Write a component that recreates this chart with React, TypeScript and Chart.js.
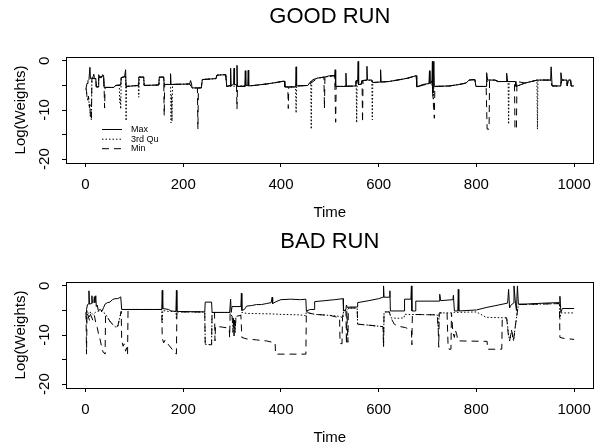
import React, { useEffect, useRef } from "react";
import { Chart, registerables } from "chart.js";

Chart.register(...registerables);

const FONT = "'Liberation Sans', Arial, Helvetica, sans-serif";

const titles = ["GOOD RUN", "BAD RUN"];
const xLabel = "Time";
const yLabel = "Log(Weights)";
const xTicks = [0, 200, 400, 600, 800, 1000];
const yTicks = [-20, -15, -10, -5, 0];
const yLabelled = [-20, -10, 0];
const seriesNames = ["Max", "3rd Qu", "Min"];

type P = [number, number];

// ---------- GOOD RUN ----------
const goodMax: P[] = [
  [1, -5.6], [3, -4.6], [5, -4.0], [7, -3.8], [9, -1.3], [10, -3.6], [15, -3.4], [17, -2.7], [18, -3.6],
  [21, -3.6], [22, -5.3], [26, -5.3], [27, -2.8], [29, -3.4], [33, -3.4], [35, -2.8], [37, -3.0], [38, -5.4],
  [58, -5.4], [62, -5.0], [72, -4.9], [73, -3.4], [80, -3.2], [82, -1.8], [83, -5.2], [108, -5.0], [109, -3.3],
  [119, -3.3], [120, -5.0], [150, -4.9], [151, -3.3], [160, -3.3], [161, -4.8], [173, -4.8], [174, -2.6],
  [175, -4.8], [213, -4.7], [215, -4.0], [217, -4.7], [218, -5.5], [237, -5.5], [239, -3.8], [267, -3.6],
  [269, -2.9], [287, -2.8], [289, -5.2], [296, -5.0], [297, -1.5], [298, -5.0], [303, -4.8], [304, -1.5],
  [305, -4.8], [309, -4.8], [310, -0.9], [311, -5.2], [326, -5.2], [327, -2.0], [328, -5.0], [332, -5.0],
  [333, -1.9], [334, -5.1], [345, -5.0], [370, -4.7], [390, -4.4], [407, -4.1], [408, -5.3], [430, -5.3],
  [431, -1.2], [432, -5.1], [455, -5.0], [460, -4.3], [466, -3.8], [475, -3.5], [489, -3.3], [500, -3.0],
  [510, -3.0], [511, -1.8], [512, -5.2], [532, -5.2], [533, -2.5], [534, -5.2], [553, -5.1], [554, -4.0],
  [557, -4.0], [558, -0.1], [559, -4.8], [564, -4.8], [566, -4.0], [575, -3.9], [576, -1.1], [577, -3.9],
  [586, -3.9], [588, -4.4], [603, -4.3], [604, -1.8], [605, -4.3], [620, -4.2], [640, -3.9], [660, -3.5],
  [677, -3.0], [678, -5.3], [690, -4.8], [703, -4.6], [704, -2.0], [705, -4.6], [709, -4.2], [710, -0.1],
  [711, -6.5], [713, -0.1], [714, -5.2], [745, -5.1], [765, -4.8], [779, -4.5], [785, -3.9], [797, -3.8],
  [799, -5.2], [820, -5.2], [821, -2.4], [823, -3.9], [838, -3.9], [845, -4.2], [861, -4.2], [862, -2.5],
  [864, -4.2], [880, -4.2], [881, -5.2], [900, -4.5], [925, -3.9], [952, -3.9], [953, -1.2], [955, -5.1],
  [972, -5.1], [973, -2.4], [975, -3.9], [985, -3.9], [986, -5.1], [988, -3.9], [993, -3.9], [994, -5.1],
  [1000, -5.1],
];

const good3rd: P[] = [
  [1, -5.6], [2, -6.2], [3, -7.5], [5, -8.0], [6, -7.2], [8, -9.5], [9, -8.8], [10, -11.5], [12, -12.0],
  [13, -3.6], [21, -3.6], [22, -5.3], [26, -5.3], [27, -3.4], [37, -3.0], [38, -5.4], [58, -5.4], [62, -5.0],
  [69, -5.0], [70, -8.5], [71, -7.5], [72, -9.8], [73, -3.4], [82, -3.2], [83, -12.2], [84, -5.2], [108, -5.0],
  [109, -7.4], [110, -3.3], [119, -3.3], [120, -5.0], [150, -4.9], [151, -3.3], [160, -3.3], [161, -4.8],
  [174, -4.8], [175, -12.6], [176, -7.0], [177, -12.3], [178, -4.8], [213, -4.7], [218, -5.5], [237, -5.5],
  [239, -3.8], [267, -3.6], [269, -2.9], [287, -2.8], [289, -5.2], [345, -5.0], [370, -4.7], [390, -4.4],
  [407, -4.1], [408, -5.3], [430, -5.3], [431, -10.6], [432, -5.1], [455, -5.0], [461, -4.2], [462, -13.9],
  [463, -4.0], [475, -3.5], [510, -3.0], [512, -5.2], [553, -5.1], [554, -4.0], [555, -12.6], [556, -4.0],
  [557, -4.0], [559, -4.8], [564, -4.8], [566, -4.0], [586, -3.9], [587, -12.0], [588, -4.4], [620, -4.2],
  [660, -3.5], [677, -3.0], [678, -5.3], [703, -4.6], [709, -4.2], [711, -6.5], [712, -8.0], [713, -5.2],
  [745, -5.1], [765, -4.8], [779, -4.5], [785, -3.9], [797, -3.8], [799, -5.2], [820, -5.2], [823, -3.9],
  [838, -3.9], [845, -4.2], [865, -4.2], [866, -12.9], [867, -4.2], [880, -4.2], [881, -5.2], [900, -4.5],
  [924, -3.9], [925, -13.9], [926, -3.9], [952, -3.9], [955, -5.1], [972, -5.1], [975, -3.9], [985, -3.9],
  [986, -5.1], [988, -3.9], [993, -3.9], [994, -5.1], [1000, -5.1],
];

const goodMin: P[] = [
  [1, -5.6], [2, -6.2], [3, -7.5], [5, -8.0], [6, -7.2], [8, -9.5], [9, -8.8], [10, -11.5], [12, -12.0],
  [13, -3.6], [21, -3.6], [22, -5.3], [26, -5.3], [27, -3.4], [37, -3.0], [38, -5.4], [39, -9.6], [40, -5.4],
  [58, -5.4], [62, -5.0], [72, -4.9], [73, -3.4], [82, -3.2], [83, -5.2], [108, -5.0], [109, -3.3], [119, -3.3],
  [120, -5.0], [150, -4.9], [151, -3.3], [160, -3.3], [161, -11.2], [162, -4.8], [213, -4.7], [218, -5.5],
  [229, -5.5], [230, -13.9], [231, -5.5], [237, -5.5], [239, -3.8], [267, -3.6], [269, -2.9], [287, -2.8],
  [289, -5.2], [309, -4.8], [310, -9.8], [311, -5.2], [345, -5.0], [370, -4.7], [390, -4.4], [407, -4.1],
  [408, -5.3], [414, -5.3], [415, -9.7], [416, -5.3], [430, -5.3], [432, -5.1], [455, -5.0], [475, -3.5],
  [488, -3.3], [489, -9.7], [490, -3.3], [510, -3.0], [512, -12.5], [513, -5.2], [553, -5.1], [554, -4.0],
  [557, -4.0], [559, -4.8], [564, -4.8], [566, -4.0], [567, -12.5], [568, -4.0], [586, -3.9], [588, -4.4],
  [620, -4.2], [660, -3.5], [677, -3.0], [678, -5.3], [703, -4.6], [709, -4.2], [714, -11.7], [715, -5.2],
  [745, -5.1], [765, -4.8], [779, -4.5], [785, -3.9], [797, -3.8], [799, -5.2], [820, -5.2], [822, -13.9],
  [826, -13.9], [827, -3.9], [838, -3.9], [845, -4.2], [878, -4.2], [879, -13.9], [882, -13.9], [883, -4.2],
  [900, -4.5], [925, -3.9], [952, -3.9], [955, -5.1], [972, -5.1], [975, -3.9], [985, -3.9], [986, -5.1],
  [988, -3.9], [993, -3.9], [994, -5.1], [1000, -5.1],
];

// ---------- BAD RUN ----------
const badMax: P[] = [
  [1, -5.4], [2, -4.8], [4, -3.8], [6, -3.7], [7, -1.0], [8, -3.7], [12, -3.6], [13, -2.0], [14, -3.5],
  [17, -3.2], [18, -2.2], [19, -3.4], [21, -2.0], [22, -4.2], [24, -3.9], [26, -5.0], [30, -4.8], [34, -5.1],
  [37, -4.4], [40, -3.7], [45, -3.4], [50, -3.3], [55, -2.8], [60, -2.6], [65, -2.6], [70, -2.4], [72, -2.2],
  [74, -4.8], [156, -4.8], [157, -0.9], [158, -4.6], [170, -4.8], [175, -5.1], [185, -5.2], [186, -0.9],
  [187, -5.2], [244, -5.3], [245, -3.3], [258, -3.3], [259, -5.4], [295, -5.4], [297, -2.7], [298, -5.4],
  [300, -4.2], [318, -4.2], [319, -1.5], [320, -5.0], [325, -4.8], [330, -4.1], [340, -4.0], [350, -3.8],
  [360, -3.8], [370, -3.6], [380, -3.4], [382, -2.3], [383, -3.6], [390, -3.2], [400, -2.8], [420, -2.7],
  [440, -2.8], [451, -2.7], [452, -5.1], [460, -4.8], [468, -4.8], [469, -3.2], [490, -3.0], [510, -2.8],
  [527, -2.6], [528, -5.1], [533, -4.8], [534, -3.9], [536, -4.4], [540, -4.3], [556, -4.3], [557, -3.4],
  [580, -3.0], [600, -2.6], [609, -2.3], [610, 0.0], [611, -2.3], [622, -2.3], [623, -1.0], [624, -5.1],
  [652, -5.1], [653, -2.7], [666, -2.7], [667, 0.0], [668, -5.1], [675, -5.1], [676, -3.1], [724, -3.1],
  [725, -1.7], [727, -3.0], [752, -2.8], [753, -1.9], [755, -5.1], [762, -5.1], [763, -0.7], [764, -5.1],
  [800, -4.9], [820, -4.4], [840, -4.0], [864, -3.5], [866, -0.7], [868, -4.5], [870, -4.0], [876, -3.5],
  [877, 0.0], [880, -3.5], [882, -5.0], [884, 0.0], [886, -3.7], [900, -3.7], [940, -3.5], [970, -3.4],
  [971, -2.1], [973, -5.4], [976, -4.6], [1000, -4.6],
];

const bad3rd: P[] = [
  [1, -5.4], [2, -7.5], [3, -5.0], [5, -5.5], [8, -6.5], [10, -5.3], [15, -5.8], [20, -5.4], [25, -5.2],
  [30, -5.0], [35, -5.4], [40, -5.6], [45, -6.4], [50, -7.2], [55, -7.8], [62, -8.4], [66, -8.2], [70, -6.5],
  [73, -5.2], [74, -4.8], [156, -4.8], [157, -7.5], [158, -5.0], [170, -5.2], [185, -5.2], [186, -6.8],
  [187, -5.3], [244, -5.3], [245, -11.9], [258, -12.0], [259, -5.4], [295, -5.4], [300, -6.2], [302, -8.5],
  [303, -6.5], [304, -9.8], [305, -7.0], [306, -9.0], [308, -6.2], [318, -6.0], [320, -5.4], [330, -5.6],
  [380, -5.7], [400, -5.8], [440, -5.9], [451, -6.1], [452, -5.1], [456, -5.5], [470, -5.8], [500, -6.0],
  [520, -6.2], [527, -6.5], [528, -5.1], [533, -5.0], [540, -4.5], [556, -4.5], [557, -7.8], [580, -8.0],
  [609, -8.3], [610, -12.5], [611, -5.3], [622, -5.3], [625, -6.5], [640, -6.6], [652, -6.5], [653, -5.8],
  [720, -5.9], [722, -8.8], [724, -5.5], [752, -5.5], [755, -5.4], [800, -5.3], [820, -6.4], [862, -6.5],
  [866, -10.0], [868, -11.2], [872, -9.0], [876, -11.2], [880, -8.0], [886, -3.8], [970, -3.6], [971, -6.8],
  [973, -5.5], [1000, -5.5],
];

const badMin: P[] = [
  [1, -5.4], [2, -13.9], [3, -5.5], [5, -6.0], [8, -7.0], [10, -5.8], [15, -7.0], [18, -6.0], [21, -7.5],
  [24, -8.5], [27, -10.0], [30, -11.0], [33, -12.5], [36, -13.5], [40, -13.9], [41, -6.0], [45, -6.5],
  [50, -7.2], [55, -7.8], [62, -8.4], [66, -8.2], [70, -6.5], [73, -5.2], [74, -11.2], [77, -12.3],
  [79, -11.8], [82, -13.3], [84, -12.6], [86, -13.9], [87, -4.8], [156, -4.8], [157, -10.7], [160, -11.6],
  [163, -11.0], [170, -12.0], [178, -13.0], [186, -13.9], [187, -5.3], [244, -5.3], [245, -11.9], [258, -12.0],
  [259, -5.4], [264, -5.4], [265, -11.2], [266, -8.2], [280, -8.4], [294, -8.6], [295, -10.5], [296, -5.4],
  [300, -6.2], [302, -9.5], [303, -6.5], [304, -10.2], [305, -7.0], [306, -9.5], [308, -6.2], [318, -6.0],
  [320, -10.5], [330, -10.8], [350, -11.0], [370, -11.2], [388, -11.6], [389, -13.9], [451, -13.9],
  [452, -5.1], [456, -5.5], [470, -5.8], [500, -6.0], [520, -6.5], [521, -11.7], [525, -11.8], [526, -6.5],
  [528, -5.1], [533, -5.0], [534, -11.8], [535, -5.2], [537, -11.5], [538, -4.5], [556, -4.5], [557, -7.8],
  [580, -8.0], [609, -8.3], [610, -12.5], [611, -5.3], [622, -5.3], [625, -6.5], [632, -7.8], [640, -8.2],
  [655, -8.5], [667, -9.0], [668, -12.0], [669, -5.8], [720, -5.9], [722, -9.0], [723, -12.5], [724, -5.5],
  [740, -5.5], [742, -12.0], [744, -12.9], [748, -12.9], [749, -5.5], [752, -9.5], [755, -10.5], [757, -9.0],
  [760, -10.0], [762, -11.2], [822, -11.3], [823, -12.9], [852, -12.9], [853, -6.5], [862, -6.5], [866, -10.5],
  [868, -11.2], [872, -9.0], [876, -11.2], [880, -8.0], [886, -3.8], [970, -3.6], [971, -10.5], [980, -10.7],
  [1000, -10.9],
];

const panels = [
  { title: titles[0], series: [goodMax, good3rd, goodMin], legend: true },
  { title: titles[1], series: [badMax, bad3rd, badMin], legend: false },
];

const dashes: number[][] = [[], [1.5, 2], [7, 5]];

const boxPlugin = {
  id: "rbox",
  afterDraw(chart: any) {
    const { ctx, chartArea: a } = chart;
    ctx.save();
    ctx.strokeStyle = "#000";
    ctx.lineWidth = 1;
    ctx.setLineDash([]);
    ctx.strokeRect(Math.round(a.left) + 0.5, Math.round(a.top) + 0.5, Math.round(a.right - a.left) - 1, Math.round(a.bottom - a.top));
    ctx.restore();
  },
};

const legendPlugin = {
  id: "rlegend",
  afterDraw(chart: any, _args: any, opts: any) {
    if (!opts || !opts.show) return;
    const { ctx } = chart;
    ctx.save();
    ctx.strokeStyle = "#000";
    ctx.fillStyle = "#000";
    ctx.lineWidth = 1;
    ctx.font = "9px " + FONT;
    ctx.textBaseline = "middle";
    ctx.textAlign = "left";
    const ys = [129.5, 139.2, 148.7];
    seriesNames.forEach((name, i) => {
      ctx.setLineDash(dashes[i]);
      ctx.beginPath();
      ctx.moveTo(102, ys[i]);
      ctx.lineTo(122, ys[i]);
      ctx.stroke();
      ctx.fillText(name, 131, ys[i]);
    });
    ctx.restore();
  },
};

function Panel({ idx }: { idx: number }) {
  const ref = useRef<HTMLCanvasElement | null>(null);
  useEffect(() => {
    const p = panels[idx];
    const tickFont = { family: FONT, size: 15 };
    const chart = new Chart(ref.current as HTMLCanvasElement, {
      type: "line",
      data: {
        datasets: p.series.map((s, i) => ({
          label: seriesNames[i],
          data: s.map(([x, y]) => ({ x, y })),
          borderColor: "#000",
          borderWidth: 1,
          borderDash: dashes[i],
          pointRadius: 0,
          tension: 0,
          fill: false,
        })),
      },
      plugins: [boxPlugin, legendPlugin],
      options: {
        animation: false,
        responsive: false,
        devicePixelRatio: 1,
        events: [],
        layout: { padding: { left: 0, right: 1, top: 0, bottom: 0 } },
        plugins: {
          legend: { display: false },
          tooltip: { enabled: false },
          title: {
            display: true,
            text: p.title,
            color: "#000",
            fullSize: false,
            font: { family: FONT, size: 22, weight: "normal" },
            padding: { top: 3.3, bottom: 27.3 },
          },
          rlegend: { show: p.legend },
        } as any,
        scales: {
          x: {
            type: "linear",
            min: -40,
            max: 1040,
            afterBuildTicks: (s: any) => {
              s.ticks = xTicks.map((v) => ({ value: v }));
            },
            afterFit: (s: any) => {
              s.height = 59;
            },
            ticks: {
              color: "#000",
              font: tickFont,
              padding: 9,
              maxRotation: 0,
              autoSkip: false,
              callback: (v: any) => String(v),
            },
            grid: { drawOnChartArea: false, drawTicks: true, tickLength: 4, color: "#000", tickColor: "#000" },
            border: { display: false },
            title: { display: true, text: xLabel, color: "#000", font: tickFont, padding: { top: 0, bottom: 0 } },
          },
          y: {
            type: "linear",
            min: -20.8,
            max: 0.8,
            afterBuildTicks: (s: any) => {
              s.ticks = yTicks.map((v) => ({ value: v }));
            },
            afterFit: (s: any) => {
              s.width = 66;
            },
            ticks: {
              color: "#000",
              font: tickFont,
              padding: 6,
              minRotation: 90,
              maxRotation: 90,
              crossAlign: "center",
              autoSkip: false,
              callback: (v: any) => (yLabelled.includes(Number(v)) ? String(v) : ""),
            },
            grid: { drawOnChartArea: false, drawTicks: true, tickLength: 4, color: "#000", tickColor: "#000" },
            border: { display: false },
            title: { display: true, text: yLabel, color: "#000", font: tickFont, padding: { top: 12, bottom: 0 } },
          },
        },
      } as any,
    });
    return () => chart.destroy();
  }, [idx]);
  return (
    <canvas
      ref={ref}
      width={600}
      height={222}
      style={{ position: "absolute", left: 0, top: idx === 0 ? 0 : 225, width: 600, height: 222 }}
    />
  );
}

export default function App() {
  return (
    <div style={{ position: "fixed", left: 0, top: 0, width: 600, height: 445, background: "#fff", overflow: "hidden" }}>
      <Panel idx={0} />
      <Panel idx={1} />
    </div>
  );
}
